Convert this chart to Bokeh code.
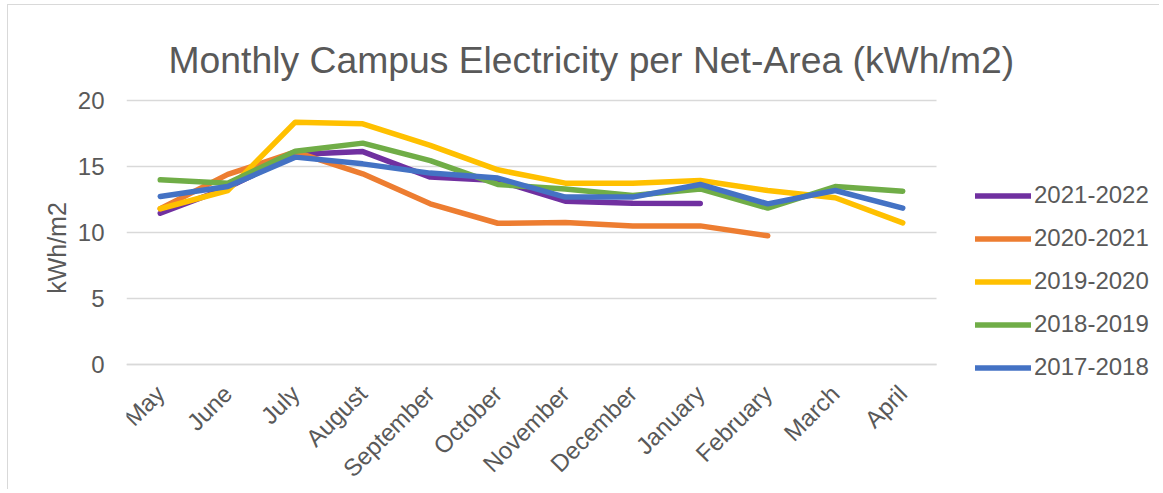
from bokeh.plotting import figure
from bokeh.models import Range1d, Legend, LegendItem, FixedTicker, Label
from bokeh.embed import file_html
from bokeh.resources import INLINE
from math import pi

months = ["May", "June", "July", "August", "September", "October", "November",
          "December", "January", "February", "March", "April"]
y_ticks = [0, 5, 10, 15, 20]

y2021_2022 = [11.46, 13.4, 15.9, 16.13, 14.2, 13.94, 12.37, 12.22, 12.2]
y2020_2021 = [11.8, 14.4, 16.1, 14.45, 12.17, 10.7, 10.75, 10.5, 10.5, 9.75]
y2019_2020 = [11.8, 13.18, 18.36, 18.23, 16.6, 14.75, 13.74, 13.74, 13.94, 13.18, 12.63, 10.73]
y2018_2019 = [13.99, 13.74, 16.16, 16.77, 15.45, 13.64, 13.3, 12.8, 13.3, 11.85, 13.48, 13.13]
y2017_2018 = [12.73, 13.48, 15.71, 15.2, 14.5, 14.12, 12.68, 12.68, 13.64, 12.17, 13.18, 11.85]

series = [
    ("2021-2022", y2021_2022, "#7030A0"),
    ("2020-2021", y2020_2021, "#ED7D31"),
    ("2019-2020", y2019_2020, "#FFC000"),
    ("2018-2019", y2018_2019, "#70AD47"),
    ("2017-2018", y2017_2018, "#4472C4"),
]

FONT = "Liberation Sans"
TXT = "#595959"
GRID = "#d9d9d9"

# ---- layout geometry (pixels, canvas coordinates) ----
OX, OY = 8, 5                  # canvas offset caused by chart border/margin
W, H = 1160 - OX, 490 - OY
LEFT = 126 - OX                # plot-area left edge
CAT_PX = 67.5                  # width of one category
ZERO_PX = 364 - OY             # y pixel of value 0
UNIT_PX = 13.2                 # pixels per kWh/m2

n = len(months)
x_start = -0.5
x_end = -0.5 + (W - LEFT) / CAT_PX
y_start = -(H - ZERO_PX) / UNIT_PX
y_end = ZERO_PX / UNIT_PX

p = figure(width=W, height=H, output_backend="svg", toolbar_location=None,
           x_range=Range1d(x_start, x_end), y_range=Range1d(y_start, y_end),
           min_border_left=LEFT, min_border_right=0, min_border_top=0,
           min_border_bottom=0)
p.styles = {"margin-left": "7px", "margin-top": "4px",
            "border-left": "1px solid #d9d9d9", "border-top": "1px solid #d9d9d9"}
p.outline_line_color = None
p.background_fill_color = "white"
p.border_fill_color = "white"
p.xgrid.visible = False
p.ygrid.visible = False

# horizontal gridlines across the category area only
p.segment(x0=[x_start] * len(y_ticks), x1=[n - 0.5] * len(y_ticks),
          y0=y_ticks, y1=y_ticks, line_color=GRID, line_width=1.5)

# y axis
p.yaxis.ticker = FixedTicker(ticks=y_ticks)
p.yaxis.axis_line_color = None
p.yaxis.major_tick_line_color = None
p.yaxis.minor_tick_line_color = None
p.yaxis.major_label_text_font = FONT
p.yaxis.major_label_text_font_size = "24px"
p.yaxis.major_label_text_color = TXT
p.yaxis.major_label_standoff = 16
p.yaxis.axis_label = "kWh/m2"
p.yaxis.axis_label_text_font = FONT
p.yaxis.axis_label_text_font_size = "25px"
p.yaxis.axis_label_text_font_style = "normal"
p.yaxis.axis_label_text_color = TXT
p.yaxis.axis_label_standoff = 4

# x axis (category axis at value 0)
p.xaxis.fixed_location = 0
p.xaxis.bounds = (x_start, n - 0.5)
p.xaxis.ticker = FixedTicker(ticks=list(range(n)))
p.xaxis.major_label_overrides = {i: m for i, m in enumerate(months)}
p.xaxis.axis_line_color = GRID
p.xaxis.axis_line_width = 1.5
p.xaxis.major_tick_line_color = None
p.xaxis.minor_tick_line_color = None
p.xaxis.major_label_orientation = pi / 4
p.xaxis.major_label_text_font = FONT
p.xaxis.major_label_text_font_size = "24px"
p.xaxis.major_label_text_color = TXT
p.xaxis.major_label_standoff = 19

items = []
for name, vals, color in series:
    r = p.line(list(range(len(vals))), vals, line_color=color, line_width=5.5,
               line_cap="round", line_join="round")
    items.append(LegendItem(label=name, renderers=[r]))

legend = Legend(items=items, location=(849, H - (381 - OY)), orientation="vertical",
                glyph_width=56, glyph_height=27, label_height=27, spacing=15,
                label_standoff=3, padding=0, margin=0,
                border_line_color=None, background_fill_alpha=0,
                label_text_font=FONT, label_text_font_size="24px",
                label_text_color=TXT)
p.add_layout(legend, "center")

title = Label(x=42, y=H - (59 - OY), x_units="screen", y_units="screen",
              text="Monthly Campus Electricity per Net-Area (kWh/m2)",
              text_align="left", text_baseline="alphabetic",
              text_font=FONT, text_font_size="37.3px", text_color=TXT)
p.add_layout(title)

open("out.html", "w").write(file_html(p, INLINE))
